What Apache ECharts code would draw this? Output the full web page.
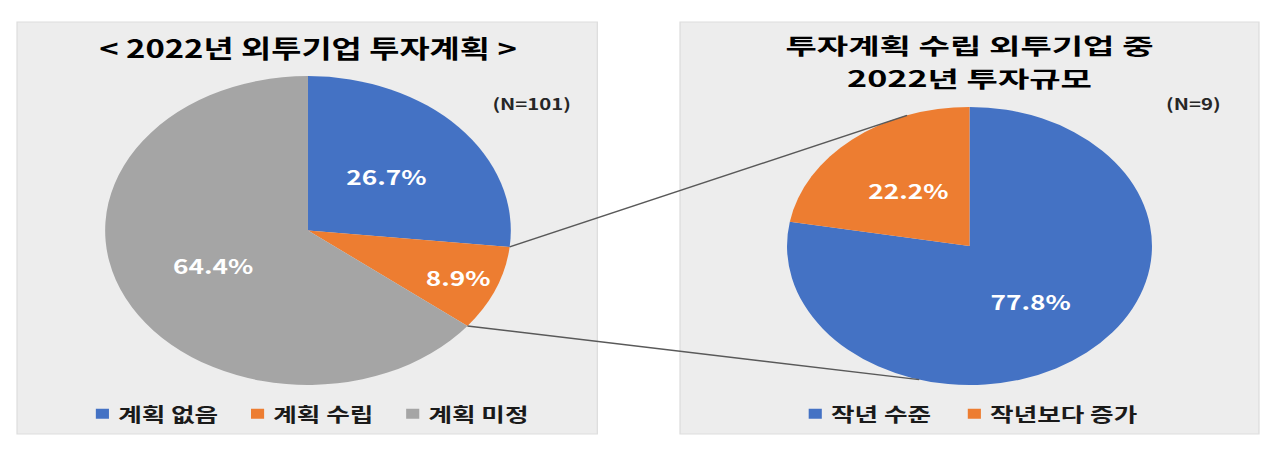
<!DOCTYPE html>
<html>
<head>
<meta charset="utf-8">
<script src="https://cdn.jsdelivr.net/npm/echarts@6/dist/echarts.min.js"></script>
<style>
html,body{margin:0;padding:0;background:#fff;overflow:hidden}
#wrap{width:1280px;height:465px;overflow:hidden}
#main{width:975px;height:465px;transform:scaleX(1.3128);transform-origin:0 0}
</style>
</head>
<body>
<div id="wrap"><div id="main"></div></div>
<script>
// data
var planNames = ['계획 없음', '계획 수립', '계획 미정'];
var planValues = [26.7, 8.9, 64.4];
var scaleNames = ['작년 수준', '작년보다 증가'];
var scaleValues = [77.8, 22.2];
var titleLeft = '< 2022년 외투기업 투자계획 >';
var titleRight = ['투자계획 수립 외투기업 중', '2022년 투자규모'];
var nLeft = '(N=101)';
var nRight = '(N=9)';

var colors = ['#4472C4', '#ED7D31', '#A5A5A5'];
var font = '"Noto Sans CJK KR", "Noto Sans", sans-serif';

// the picture is stretched sideways, so the chart is drawn narrow and scaled in css
var L = {cx: 234.6, cy: 230.5, r: 154.5};
var R = {cx: 738.5, cy: 246, r: 139};

function pt(p, deg){
    var a = deg * Math.PI / 180;
    return [p.cx + p.r * Math.cos(a), p.cy - p.r * Math.sin(a)];
}

var sum = planValues.reduce(function(a, b){ return a + b; }, 0);
var a1 = 90 - 360 * planValues[0] / sum;
var a2 = 90 - 360 * (planValues[0] + planValues[1]) / sum;
var aMid = (a1 + a2) / 2;

var p1 = pt(L, a1), q1 = pt(R, 110);
var p2 = pt(L, a2), q2 = pt(R, -106);

var chart = echarts.init(document.getElementById('main'), null, {renderer: 'svg'});

function pieLabel(){
    return {
        show: true,
        position: 'inside',
        color: '#fff',
        fontSize: 20,
        fontWeight: 'bold',
        fontFamily: font,
        formatter: function(p){ return p.value.toFixed(1) + '%'; }
    };
}

function head(text, x, y, size, color){
    return {text: text, left: x, top: y, padding: 0, textAlign: 'center', textVerticalAlign: 'middle',
            textStyle: {fontSize: size, fontWeight: 'bold', color: color, fontFamily: font}};
}

// right title: two lines set close together, a bit condensed font stretched wider
function headLine(text, y){
    return {type: 'text', x: R.cx, y: y, scaleX: 1.18, z: 10,
            style: {text: text, align: 'center', verticalAlign: 'middle', fill: '#000',
                    fontSize: 22, fontWeight: 'bold', fontFamily: font}};
}

var legendText = {fontSize: 19.5, fontWeight: 'bold', color: '#1a1a1a', fontFamily: font, padding: [0, 0, 0, 2]};

var option = {
    animation: false,
    backgroundColor: '#fff',
    title: [
        head(titleLeft, L.cx, 47, 25, '#000'),
        head(nLeft, 405, 103, 15.5, '#262626'),
        head(nRight, 909, 103, 15.5, '#262626')
    ],
    legend: [
        {data: planNames, left: 68, top: 399, icon: 'rect', itemWidth: 10, itemHeight: 10, itemGap: 25,
         selectedMode: false, textStyle: legendText},
        {data: scaleNames, left: 611, top: 399, icon: 'rect', itemWidth: 10, itemHeight: 10, itemGap: 28,
         selectedMode: false, textStyle: legendText}
    ],
    graphic: [
        {type: 'rect', z: -1, shape: {x: 13, y: 22, width: 442, height: 412},
         style: {fill: '#ededed', stroke: '#dedede', lineWidth: 1}},
        {type: 'rect', z: -1, shape: {x: 518, y: 22, width: 441, height: 412},
         style: {fill: '#ededed', stroke: '#dedede', lineWidth: 1}},
        headLine(titleRight[0], 44.5),
        headLine(titleRight[1], 77),
        {type: 'line', z: 10, shape: {x1: p1[0], y1: p1[1], x2: q1[0], y2: q1[1]},
         style: {stroke: '#595959', lineWidth: 1.4}},
        {type: 'line', z: 10, shape: {x1: p2[0], y1: p2[1], x2: q2[0], y2: q2[1]},
         style: {stroke: '#595959', lineWidth: 1.4}}
    ],
    series: [
        {
            type: 'pie',
            silent: true,
            center: [L.cx, L.cy],
            radius: L.r,
            startAngle: 90,
            clockwise: true,
            label: pieLabel(),
            labelLine: {show: false},
            // excel pushed the small slice's label further out
            labelLayout: function(p){
                if (p.dataIndex !== 1) return {};
                var a = aMid * Math.PI / 180;
                return {dx: 0.28 * L.r * Math.cos(a), dy: -0.28 * L.r * Math.sin(a)};
            },
            data: planNames.map(function(n, i){
                return {name: n, value: planValues[i], itemStyle: {color: colors[i]}};
            })
        },
        {
            type: 'pie',
            silent: true,
            center: [R.cx, R.cy],
            radius: R.r,
            startAngle: 90,
            clockwise: true,
            label: pieLabel(),
            labelLine: {show: false},
            data: scaleNames.map(function(n, i){
                return {name: n, value: scaleValues[i], itemStyle: {color: colors[i]}};
            })
        }
    ]
};

chart.setOption(option);
</script>
</body>
</html>
